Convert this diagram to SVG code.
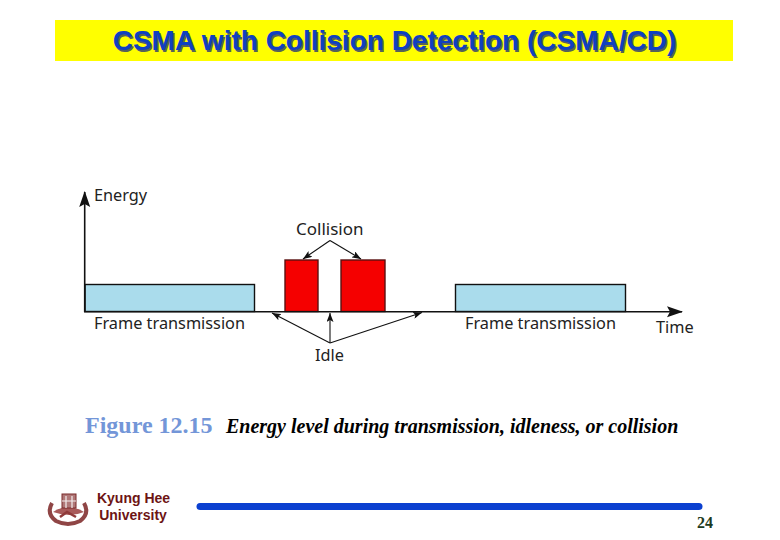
<svg xmlns="http://www.w3.org/2000/svg" width="780" height="540" viewBox="0 0 780 540">
<style>
.lab{font-family:"Noto Sans","Open Sans",sans-serif;font-size:16.300px;fill:#222}
.ax{stroke:#111;stroke-width:1.6;fill:none}
.thin{stroke:#111;stroke-width:1.1;fill:none}
.fr{fill:#aadcec;stroke:#111;stroke-width:1.4}
.col{fill:#f50000;stroke:#5a1010;stroke-width:1.4}
.ti{font-family:"Liberation Sans",Arial,sans-serif;font-weight:bold;font-size:28px}
.ku{font-family:"Liberation Sans",Arial,sans-serif;font-size:14px;font-weight:bold;fill:#6d1414;text-anchor:middle}
</style>
<defs>
<marker id="big" markerWidth="16" markerHeight="12" refX="15" refY="6" orient="auto" markerUnits="userSpaceOnUse"><path d="M0 0.500L16 6L0 11.500L3 6Z" fill="#111"/></marker>
<marker id="small" markerWidth="9" markerHeight="7" refX="9" refY="3.500" orient="auto" markerUnits="userSpaceOnUse"><path d="M0 0L9 3.500L0 7L2 3.500Z" fill="#111"/></marker>
</defs>
<rect width="780" height="540" fill="#fff"/>
<g id="title">
<rect x="55" y="20" width="678" height="41" fill="#ffff00"/>
<text class="ti" x="396" y="51.500" text-anchor="middle" fill="#55625a">CSMA with Collision Detection (CSMA/CD)</text>
<text class="ti" x="394.500" y="50" text-anchor="middle" fill="#1040c0">CSMA with Collision Detection (CSMA/CD)</text>
</g>
<g id="frame1"><rect class="fr" x="85" y="284.500" width="169.500" height="27"/><text class="lab" x="94" y="329">Frame transmission</text></g>
<g id="collision1"><rect class="col" x="285" y="260" width="33" height="51.500"/></g>
<g id="collision2"><rect class="col" x="341" y="260" width="44" height="51.500"/></g>
<g id="frame2"><rect class="fr" x="455.500" y="284.500" width="170" height="27"/><text class="lab" x="465" y="329">Frame transmission</text></g>
<g id="connectors">
<path class="ax" d="M84.700 312V192" marker-end="url(#big)"/>
<path class="ax" d="M84 311.700H682" marker-end="url(#big)"/>
<path class="thin" d="M330 240.500L303 259" marker-end="url(#small)"/>
<path class="thin" d="M330 240.500L361 259" marker-end="url(#small)"/>
<path class="thin" d="M330 343L272 313" marker-end="url(#small)"/>
<path class="thin" d="M330 343V313" marker-end="url(#small)"/>
<path class="thin" d="M330 343L422 312.500" marker-end="url(#small)"/>
</g>
<g id="labels">
<text class="lab" x="94" y="201">Energy</text>
<text class="lab" x="296" y="235" font-size="17" style="font-size:17px">Collision</text>
<text class="lab" x="315" y="361">Idle</text>
<text class="lab" x="656" y="333">Time</text>
</g>
<g id="caption">
<text x="85" y="433" font-family="'Liberation Serif',serif" font-size="24" font-weight="bold" fill="#7396d8">Figure 12.15</text>
<text x="226" y="433" font-family="'Liberation Serif',serif" font-size="20" font-weight="bold" font-style="italic" fill="#000">Energy level during transmission, idleness, or collision</text>
</g>
<g id="logo">
<path d="M52 503Q46 514 56 521Q68 527 80 521Q90 514 84 503" fill="none" stroke="#8f4545" stroke-width="4"/>
<path d="M53 512Q68 502 84 512Q70 518 53 512Z" fill="#a85a5a"/>
<path d="M60 517L67 512L76 517" fill="none" stroke="#8f3a3a" stroke-width="2.500"/>
<rect x="62" y="494" width="14" height="14" fill="#b07878" stroke="#7a2a2a"/>
<path d="M66 496V508M72 496V508M62 501H76" stroke="#f4eeee" stroke-width="1.200"/>
<text class="ku" x="133.500" y="503">Kyung Hee</text>
<text class="ku" x="133" y="520">University</text>
</g>
<g id="footer">
<path d="M200 506.500H699" stroke="#0b40d0" stroke-width="7" stroke-linecap="round"/>
<text x="697" y="528" font-family="'Liberation Serif',serif" font-size="16" font-weight="bold" fill="#1c3a20">24</text>
</g>
</svg>
